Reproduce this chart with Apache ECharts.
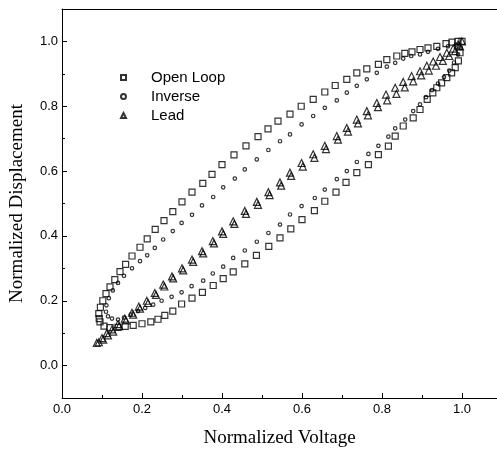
<!DOCTYPE html>
<html>
<head>
<meta charset="utf-8">
<script src="https://cdn.jsdelivr.net/npm/echarts@6.0.0/dist/echarts.min.js"></script>
<style>
  html, body { margin: 0; padding: 0; background: #fff; }
  #hyst { width: 497px; height: 453px; }
</style>
</head>
<body>
<div id="hyst"></div>
<script>
// values (normalized voltage, normalized displacement)
const openLoop = [
  // rising branch
  [0.095, 0.135], [0.105, 0.122], [0.12, 0.117], [0.14, 0.118], [0.158, 0.121],
  [0.178, 0.124], [0.2, 0.129], [0.222, 0.135], [0.24, 0.143], [0.257, 0.155],
  [0.277, 0.168], [0.299, 0.19], [0.325, 0.208], [0.351, 0.226], [0.378, 0.247],
  [0.403, 0.268], [0.428, 0.289], [0.457, 0.314], [0.486, 0.34], [0.517, 0.368],
  [0.545, 0.394], [0.572, 0.422], [0.6, 0.45], [0.631, 0.478], [0.657, 0.507],
  [0.685, 0.535], [0.71, 0.565], [0.737, 0.595], [0.766, 0.62], [0.791, 0.651],
  [0.816, 0.677], [0.833, 0.708], [0.853, 0.739], [0.878, 0.764], [0.895, 0.79],
  [0.913, 0.821], [0.927, 0.841], [0.937, 0.857], [0.949, 0.872], [0.962, 0.888],
  [0.974, 0.903], [0.983, 0.919], [0.991, 0.94], [0.995, 0.965], [1.0, 1.0],
  // falling branch
  [0.99, 1.0], [0.975, 0.998], [0.96, 0.993], [0.937, 0.985], [0.915, 0.98],
  [0.895, 0.975], [0.875, 0.968], [0.857, 0.963], [0.837, 0.955], [0.812, 0.944],
  [0.791, 0.929], [0.762, 0.915], [0.737, 0.903], [0.712, 0.883], [0.683, 0.864],
  [0.657, 0.844], [0.628, 0.821], [0.598, 0.8], [0.57, 0.776], [0.54, 0.754],
  [0.515, 0.73], [0.49, 0.706], [0.46, 0.678], [0.43, 0.65], [0.4, 0.62],
  [0.375, 0.59], [0.352, 0.562], [0.325, 0.535], [0.3, 0.505], [0.277, 0.475],
  [0.255, 0.447], [0.233, 0.42], [0.213, 0.391], [0.195, 0.365], [0.175, 0.338],
  [0.159, 0.312], [0.145, 0.29], [0.132, 0.265], [0.12, 0.243], [0.11, 0.222],
  [0.102, 0.2], [0.096, 0.18], [0.092, 0.16], [0.093, 0.145]
];

const inverse = [
  // rising branch
  [0.14, 0.142], [0.155, 0.148], [0.172, 0.157], [0.19, 0.168], [0.208, 0.178],
  [0.228, 0.188], [0.249, 0.2], [0.274, 0.212], [0.299, 0.226], [0.324, 0.245],
  [0.353, 0.262], [0.377, 0.284], [0.403, 0.305], [0.428, 0.332], [0.457, 0.355],
  [0.487, 0.382], [0.516, 0.409], [0.545, 0.435], [0.57, 0.466], [0.599, 0.492],
  [0.632, 0.517], [0.657, 0.543], [0.687, 0.575], [0.712, 0.6], [0.737, 0.628],
  [0.766, 0.653], [0.791, 0.678], [0.816, 0.706], [0.833, 0.732], [0.858, 0.759],
  [0.878, 0.785], [0.895, 0.806], [0.91, 0.828], [0.925, 0.85], [0.94, 0.87],
  [0.955, 0.89], [0.968, 0.91], [0.98, 0.935], [0.99, 0.96], [0.997, 0.98],
  // falling branch
  [0.985, 0.99], [0.965, 0.985], [0.94, 0.977], [0.915, 0.968], [0.895, 0.96],
  [0.873, 0.955], [0.853, 0.947], [0.833, 0.934], [0.812, 0.922], [0.787, 0.903],
  [0.762, 0.883], [0.737, 0.863], [0.712, 0.842], [0.687, 0.818], [0.657, 0.795],
  [0.628, 0.77], [0.599, 0.744], [0.57, 0.713], [0.545, 0.692], [0.516, 0.665],
  [0.487, 0.636], [0.457, 0.605], [0.432, 0.577], [0.403, 0.55], [0.378, 0.52],
  [0.35, 0.494], [0.325, 0.465], [0.299, 0.44], [0.277, 0.415], [0.253, 0.389],
  [0.232, 0.363], [0.213, 0.34], [0.195, 0.322], [0.175, 0.3], [0.155, 0.277],
  [0.14, 0.255], [0.127, 0.232], [0.117, 0.208], [0.111, 0.186], [0.11, 0.166],
  [0.115, 0.152], [0.125, 0.145]
];

const lead = [
  // rising branch
  [0.087, 0.07], [0.1, 0.085], [0.112, 0.1], [0.125, 0.112], [0.14, 0.128],
  [0.157, 0.145], [0.175, 0.163], [0.192, 0.182], [0.212, 0.2], [0.232, 0.224],
  [0.253, 0.25], [0.275, 0.275], [0.3, 0.3], [0.325, 0.327], [0.35, 0.353],
  [0.377, 0.384], [0.4, 0.414], [0.428, 0.445], [0.457, 0.477], [0.487, 0.505],
  [0.516, 0.535], [0.545, 0.565], [0.57, 0.595], [0.599, 0.625], [0.628, 0.652],
  [0.657, 0.678], [0.687, 0.708], [0.712, 0.733], [0.737, 0.759], [0.762, 0.785],
  [0.787, 0.81], [0.81, 0.836], [0.833, 0.857], [0.853, 0.875], [0.874, 0.893],
  [0.895, 0.908], [0.912, 0.925], [0.928, 0.938], [0.945, 0.952], [0.962, 0.965],
  [0.978, 0.978], [0.99, 0.99], [1.0, 1.0],
  // falling branch
  [0.995, 0.985], [0.983, 0.97], [0.968, 0.955], [0.952, 0.94], [0.935, 0.925],
  [0.917, 0.91], [0.898, 0.895], [0.878, 0.877], [0.857, 0.858], [0.836, 0.838],
  [0.813, 0.818], [0.79, 0.797], [0.765, 0.772], [0.74, 0.747], [0.715, 0.722],
  [0.69, 0.697], [0.66, 0.668], [0.631, 0.641], [0.602, 0.614], [0.573, 0.585],
  [0.548, 0.555], [0.519, 0.526], [0.49, 0.496], [0.46, 0.468], [0.431, 0.437],
  [0.403, 0.406], [0.38, 0.377], [0.353, 0.346], [0.328, 0.32], [0.303, 0.294],
  [0.278, 0.269], [0.256, 0.244], [0.235, 0.218], [0.215, 0.193], [0.195, 0.176],
  [0.178, 0.157], [0.16, 0.139], [0.143, 0.122], [0.128, 0.105], [0.115, 0.093],
  [0.103, 0.08], [0.092, 0.072]
];

const seriesNames = ['Open Loop', 'Inverse', 'Lead'];
const xRange = [0, 1.0875];
const yRange = [-0.1, 1.1];

var myChart = echarts.init(document.getElementById('hyst'));

const sans = 'Liberation Sans';
const serif = 'Liberation Serif';
// only label the 0.2 steps, hide the odd extent ends
const tickFmt = v => (Math.abs(v * 5 - Math.round(v * 5)) < 1e-6 ? v.toFixed(1) : '');
const hollow = { color: 'rgba(0,0,0,0)', borderColor: '#000', borderWidth: 1.2 };

let option = {
  animation: false,
  backgroundColor: '#fff',
  grid: { left: 62, right: 0, top: 9, bottom: 55, containLabel: false, outerBoundsMode: 'none' },
  legend: {
    orient: 'vertical',
    left: 120,
    top: 70,
    padding: 0,
    itemGap: 4,
    itemWidth: 5,
    itemHeight: 5,
    data: [
      { name: seriesNames[0], icon: 'rect' },
      { name: seriesNames[1], icon: 'circle' },
      { name: seriesNames[2], icon: 'triangle' }
    ],
    textStyle: { fontFamily: sans, fontSize: 15, color: '#000', padding: [0, 0, 0, 20] }
  },
  xAxis: [
    {
      type: 'value', min: xRange[0], max: xRange[1], interval: 0.2, position: 'bottom',
      name: 'Normalized Voltage', nameLocation: 'middle', nameGap: 31,
      nameTextStyle: { fontFamily: serif, fontSize: 19, color: '#000' },
      axisLine: { onZero: false, lineStyle: { color: '#000', width: 1 } },
      axisTick: { inside: true, length: 5, lineStyle: { color: '#000' } },
      axisLabel: { formatter: tickFmt, fontFamily: sans, fontSize: 13, color: '#000', margin: 5 },
      splitLine: { show: false }
    },
    {
      // minor ticks every 0.1
      type: 'value', min: xRange[0], max: xRange[1], interval: 0.1, position: 'bottom',
      axisLine: { show: false, onZero: false },
      axisTick: { inside: true, length: 3, lineStyle: { color: '#000' } },
      axisLabel: { show: false },
      splitLine: { show: false }
    },
    {
      // top frame line
      type: 'value', min: xRange[0], max: xRange[1], position: 'top',
      axisLine: { onZero: false, lineStyle: { color: '#000', width: 1 } },
      axisTick: { show: false },
      axisLabel: { show: false },
      splitLine: { show: false }
    }
  ],
  yAxis: [
    {
      type: 'value', min: yRange[0], max: yRange[1], splitNumber: 6, position: 'left',
      name: 'Normalized Displacement', nameLocation: 'middle', nameGap: 35,
      nameTextStyle: { fontFamily: serif, fontSize: 19, color: '#000' },
      axisLine: { onZero: false, lineStyle: { color: '#000', width: 1 } },
      axisTick: { inside: true, length: 5, lineStyle: { color: '#000' } },
      axisLabel: { formatter: tickFmt, fontFamily: sans, fontSize: 13, color: '#000', margin: 4 },
      splitLine: { show: false }
    },
    {
      // minor ticks at the odd tenths
      type: 'value', min: yRange[0], max: yRange[1], interval: 0.2, position: 'left',
      axisLine: { show: false, onZero: false },
      axisTick: { inside: true, length: 3, lineStyle: { color: '#000' } },
      axisLabel: { show: false },
      splitLine: { show: false }
    }
  ],
  series: [
    {
      name: seriesNames[0], type: 'scatter', data: openLoop,
      symbol: 'rect', symbolSize: 6, itemStyle: hollow
    },
    {
      name: seriesNames[1], type: 'scatter', data: inverse,
      symbol: 'circle', symbolSize: 3.5, itemStyle: hollow
    },
    {
      name: seriesNames[2], type: 'scatter', data: lead,
      symbol: 'triangle', symbolSize: 7, itemStyle: hollow
    }
  ]
};
myChart.setOption(option);
</script>
</body>
</html>
